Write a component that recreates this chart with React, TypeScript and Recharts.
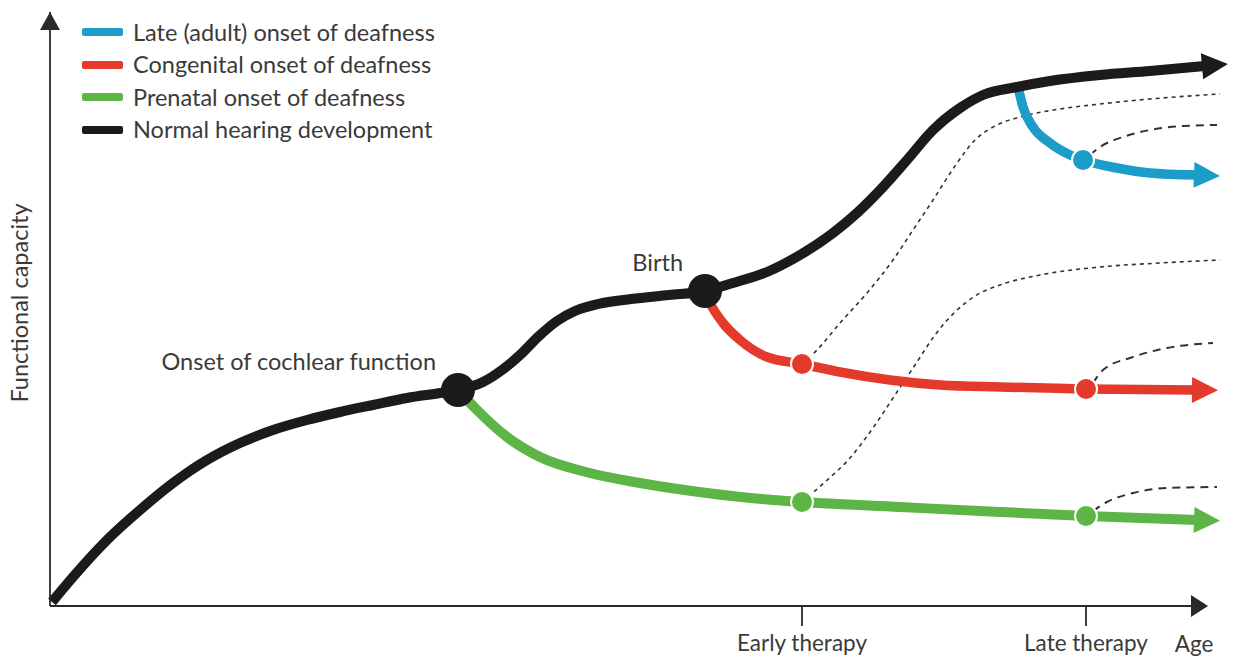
import React from 'react';
import { LineChart, Line, XAxis, YAxis, ReferenceDot, ReferenceLine, Legend } from 'recharts';

// values: age (x) vs functional capacity (y), arbitrary units
const normalHearing = [
  { age: 2, capacity: 4 }, { age: 23, capacity: 29 }, { age: 57, capacity: 66 }, { age: 90, capacity: 96 },
  { age: 123, capacity: 123 }, { age: 157, capacity: 146 }, { age: 190, capacity: 163 }, { age: 223, capacity: 176 },
  { age: 257, capacity: 186 }, { age: 290, capacity: 194 }, { age: 323, capacity: 201 }, { age: 357, capacity: 208 },
  { age: 390, capacity: 213 }, { age: 408, capacity: 216 }, { age: 433, capacity: 224 }, { age: 452, capacity: 236 },
  { age: 470, capacity: 251 }, { age: 489, capacity: 270 }, { age: 507, capacity: 285 }, { age: 525, capacity: 295 },
  { age: 548, capacity: 302 }, { age: 581, capacity: 307 }, { age: 619, capacity: 311 }, { age: 655, capacity: 315 },
  { age: 683, capacity: 323 }, { age: 717, capacity: 334 }, { age: 750, capacity: 351 }, { age: 783, capacity: 373 },
  { age: 807, capacity: 393 }, { age: 833, capacity: 419 }, { age: 857, capacity: 446 }, { age: 883, capacity: 476 },
  { age: 910, capacity: 498 }, { age: 933, capacity: 511 }, { age: 967, capacity: 519 }, { age: 1000, capacity: 525 },
  { age: 1050, capacity: 531 }, { age: 1100, capacity: 535 }, { age: 1155, capacity: 540 },
];

const prenatalOnset = [
  { age: 408, capacity: 216 }, { age: 427, capacity: 196 }, { age: 457, capacity: 169 }, { age: 490, capacity: 149 },
  { age: 540, capacity: 133 }, { age: 590, capacity: 123 }, { age: 657, capacity: 113 }, { age: 723, capacity: 106 },
  { age: 752, capacity: 104 }, { age: 850, capacity: 99 }, { age: 950, capacity: 94 }, { age: 1036, capacity: 90 },
  { age: 1147, capacity: 86 },
];

const congenitalOnset = [
  { age: 655, capacity: 314 }, { age: 660, capacity: 303 }, { age: 673, capacity: 283 }, { age: 690, capacity: 266 },
  { age: 717, capacity: 249 }, { age: 752, capacity: 242 }, { age: 790, capacity: 234 }, { age: 840, capacity: 226 },
  { age: 890, capacity: 221 }, { age: 950, capacity: 219 }, { age: 1036, capacity: 217 }, { age: 1145, capacity: 216 },
];

const lateOnset = [
  { age: 968, capacity: 519 }, { age: 973, capacity: 499 }, { age: 983, capacity: 479 }, { age: 1000, capacity: 463 },
  { age: 1020, capacity: 451 }, { age: 1033, capacity: 446 }, { age: 1067, capacity: 438 }, { age: 1100, capacity: 433 },
  { age: 1147, capacity: 431 },
];

const congenitalEarlyTherapy = [
  { age: 752, capacity: 242 }, { age: 767, capacity: 256 }, { age: 790, capacity: 283 }, { age: 817, capacity: 313 },
  { age: 843, capacity: 346 }, { age: 863, capacity: 376 }, { age: 883, capacity: 406 }, { age: 905, capacity: 440 },
  { age: 925, capacity: 466 }, { age: 945, capacity: 480 }, { age: 970, capacity: 489 }, { age: 1010, capacity: 497 },
  { age: 1050, capacity: 502 }, { age: 1100, capacity: 507 }, { age: 1170, capacity: 512 },
];

const prenatalEarlyTherapy = [
  { age: 752, capacity: 104 }, { age: 775, capacity: 124 }, { age: 800, capacity: 148 }, { age: 825, capacity: 181 },
  { age: 845, capacity: 211 }, { age: 865, capacity: 241 }, { age: 885, capacity: 271 }, { age: 905, capacity: 294 },
  { age: 925, capacity: 310 }, { age: 950, capacity: 321 }, { age: 990, capacity: 331 }, { age: 1050, capacity: 339 },
  { age: 1110, capacity: 343 }, { age: 1170, capacity: 346 },
];

const lateOnsetLateTherapy = [
  { age: 1040, capacity: 451 }, { age: 1050, capacity: 459 }, { age: 1073, capacity: 469 }, { age: 1100, capacity: 476 },
  { age: 1133, capacity: 480 }, { age: 1167, capacity: 481 },
];

const congenitalLateTherapy = [
  { age: 1043, capacity: 223 }, { age: 1053, capacity: 236 }, { age: 1083, capacity: 249 }, { age: 1117, capacity: 258 },
  { age: 1163, capacity: 263 },
];

const prenatalLateTherapy = [
  { age: 1043, capacity: 95 }, { age: 1057, capacity: 104 }, { age: 1083, capacity: 113 }, { age: 1117, capacity: 118 },
  { age: 1167, capacity: 119 },
];

const milestones = [
  { label: 'Onset of cochlear function', age: 408, capacity: 216 },
  { label: 'Birth', age: 655, capacity: 315 },
];

const therapyPoints = [
  { series: 'congenital', age: 752, capacity: 242 },
  { series: 'prenatal', age: 752, capacity: 104 },
  { series: 'late', age: 1033, capacity: 446 },
  { series: 'congenital', age: 1036, capacity: 217 },
  { series: 'prenatal', age: 1036, capacity: 90 },
];

const therapyTicks = [752, 1036];
const therapyLabels = ['Early therapy', 'Late therapy'];

const legendItems = [
  { series: 'late', name: 'Late (adult) onset of deafness' },
  { series: 'congenital', name: 'Congenital onset of deafness' },
  { series: 'prenatal', name: 'Prenatal onset of deafness' },
  { series: 'normal', name: 'Normal hearing development' },
];

const COLORS: Record<string, string> = {
  late: '#1c9cc9',
  congenital: '#e43a2c',
  prenatal: '#5db545',
  normal: '#1c1a1a',
};

const FONT = 'Lato, "Open Sans", sans-serif';
const TEXT = '#3a3a3a';
const AXIS = '#2a2a2a';

// arrow head at the last point of a series, pointing along the last segment
function arrowDot(data: { age: number; capacity: number }[], color: string, len = 26, half = 13) {
  return (props: any) => {
    const { cx, cy, index } = props;
    if (index !== data.length - 1) return <g key={`d-${index}`} />;
    const a = data[data.length - 2];
    const b = data[data.length - 1];
    const ang = Math.atan2(-(b.capacity - a.capacity), b.age - a.age);
    const c = Math.cos(ang);
    const s = Math.sin(ang);
    const bx = cx - 3 * c;
    const by = cy - 3 * s;
    const pts = [
      [bx + len * c, by + len * s],
      [bx - half * s, by + half * c],
      [bx + half * s, by - half * c],
    ];
    return <polygon key={`d-${index}`} points={pts.map((p) => p.join(',')).join(' ')} fill={color} />;
  };
}

function LegendBox() {
  return (
    <div style={{ fontFamily: FONT }}>
      {legendItems.map((it) => (
        <div key={it.series} style={{ display: 'flex', alignItems: 'center', height: 32.5 }}>
          <span style={{ width: 41, height: 8, background: COLORS[it.series], marginRight: 10, borderRadius: 2 }} />
          <span style={{ fontSize: 23.5, color: TEXT, lineHeight: 1 }}>{it.name}</span>
        </div>
      ))}
    </div>
  );
}

export default function App() {
  const dotted = { stroke: '#333', strokeWidth: 1.6, strokeDasharray: '4 4', fill: 'none' };
  const dashed = { stroke: '#333', strokeWidth: 2, strokeDasharray: '8 6', fill: 'none' };

  return (
    <div style={{ position: 'absolute', left: 0, top: 0, background: '#fff', fontFamily: FONT }}>
      <LineChart width={1233} height={662} margin={{ top: 12, right: 5, left: 0, bottom: 0 }}>
        <XAxis
          type="number"
          dataKey="age"
          domain={[0, 1178]}
          height={56}
          axisLine={false}
          ticks={therapyTicks}
          tickFormatter={(v: number) => therapyLabels[therapyTicks.indexOf(v)] ?? ''}
          tickSize={20}
          tickMargin={9}
          tickLine={{ stroke: AXIS, strokeWidth: 1.8 }}
          tick={{ fill: TEXT, fontSize: 22.5, fontFamily: FONT }}
          interval={0}
          label={{
            content: ({ viewBox }: any) => (
              <text x={viewBox.x + viewBox.width - 34} y={viewBox.y + 46} textAnchor="middle" fill={TEXT} fontSize={22.5} fontFamily={FONT}>
                Age
              </text>
            ),
          }}
        />
        <YAxis
          type="number"
          domain={[0, 594]}
          width={50}
          tick={false}
          tickLine={false}
          axisLine={{ stroke: AXIS, strokeWidth: 1.8 }}
          label={{
            content: () => {
              const x = 19;
              const y = 303;
              return (
                <text x={x} y={y} transform={`rotate(-90 ${x} ${y})`} textAnchor="middle" dominantBaseline="central" fill={TEXT} fontSize={23.5} fontFamily={FONT}>
                  Functional capacity
                </text>
              );
            },
          }}
        />
        <Legend layout="vertical" align="center" verticalAlign="middle" wrapperStyle={{ top: 16, left: 82, width: 'auto' }} content={() => <LegendBox />} />

        <ReferenceLine segment={[{ x: 0, y: 0 }, { x: 1146, y: 0 }]} stroke={AXIS} strokeWidth={1.8} />
        <ReferenceDot
          x={1158}
          y={0}
          r={0}
          shape={(p: any) => <polygon points={`${p.cx},${p.cy} ${p.cx - 17},${p.cy - 11} ${p.cx - 17},${p.cy + 11}`} fill={AXIS} />}
        />
        <ReferenceDot
          x={0}
          y={594}
          r={0}
          shape={(p: any) => <polygon points={`${p.cx},${p.cy} ${p.cx - 10},${p.cy + 18} ${p.cx + 10},${p.cy + 18}`} fill={AXIS} />}
        />

        <Line data={congenitalEarlyTherapy} dataKey="capacity" type="monotone" {...dotted} dot={false} isAnimationActive={false} />
        <Line data={prenatalEarlyTherapy} dataKey="capacity" type="monotone" {...dotted} dot={false} isAnimationActive={false} />
        <Line data={lateOnsetLateTherapy} dataKey="capacity" type="monotone" {...dashed} dot={false} isAnimationActive={false} />
        <Line data={congenitalLateTherapy} dataKey="capacity" type="monotone" {...dashed} dot={false} isAnimationActive={false} />
        <Line data={prenatalLateTherapy} dataKey="capacity" type="monotone" {...dashed} dot={false} isAnimationActive={false} />

        <Line data={prenatalOnset} dataKey="capacity" type="monotone" stroke={COLORS.prenatal} strokeWidth={10} dot={arrowDot(prenatalOnset, COLORS.prenatal)} activeDot={false} isAnimationActive={false} />
        <Line data={congenitalOnset} dataKey="capacity" type="monotone" stroke={COLORS.congenital} strokeWidth={9.5} dot={arrowDot(congenitalOnset, COLORS.congenital)} activeDot={false} isAnimationActive={false} />
        <Line data={lateOnset} dataKey="capacity" type="monotone" stroke={COLORS.late} strokeWidth={9.5} dot={arrowDot(lateOnset, COLORS.late)} activeDot={false} isAnimationActive={false} />
        <Line data={normalHearing} dataKey="capacity" type="monotone" stroke={COLORS.normal} strokeWidth={10} dot={arrowDot(normalHearing, COLORS.normal)} activeDot={false} isAnimationActive={false} />

        {therapyPoints.map((p, i) => (
          <ReferenceDot key={`t-${i}`} x={p.age} y={p.capacity} r={11} fill={COLORS[p.series]} stroke="#fff" strokeWidth={2} />
        ))}
        {milestones.map((m) => (
          <ReferenceDot
            key={m.label}
            x={m.age}
            y={m.capacity}
            r={17}
            shape={(p: any) => (
              <g>
                <circle cx={p.cx} cy={p.cy} r={17} fill={COLORS.normal} />
                <text x={p.cx - 22} y={p.cy - 20} textAnchor="end" fill={TEXT} fontSize={23.5} fontFamily={FONT}>
                  {m.label}
                </text>
              </g>
            )}
          />
        ))}
      </LineChart>
    </div>
  );
}
